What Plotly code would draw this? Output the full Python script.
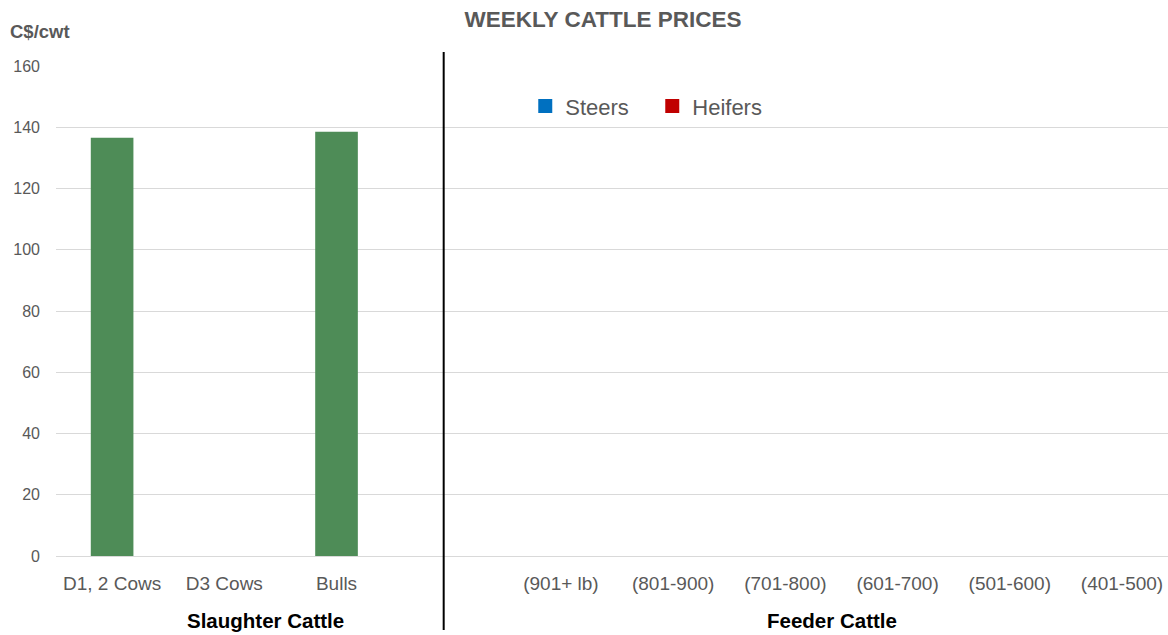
import plotly.graph_objects as go

# ---- data ----
slaughter_categories = ["D1, 2 Cows", "D3 Cows", "Bulls"]
slaughter_values = [136.6, None, 138.5]
feeder_categories = ["(901+ lb)", "(801-900)", "(701-800)", "(601-700)", "(501-600)", "(401-500)"]
steers_values = [None, None, None, None, None, None]
heifers_values = [None, None, None, None, None, None]
spacer_category = [" "]
y_ticks = [0, 20, 40, 60, 80, 100, 120, 140, 160]

all_categories = slaughter_categories + spacer_category + feeder_categories

FONT = "Liberation Sans Narrow, Arial Narrow, Liberation Sans, Arial, sans-serif"
GREY = "#595959"

fig = go.Figure()
fig.add_trace(go.Bar(x=slaughter_categories, y=slaughter_values, name="Slaughter",
                     marker=dict(color="#4e8c57", line=dict(width=0)), width=0.38,
                     showlegend=False))
fig.add_trace(go.Bar(x=feeder_categories, y=steers_values, name="Steers",
                     marker=dict(color="#0070c0", line=dict(color="#0070c0", width=2)),
                     width=0.38))
fig.add_trace(go.Bar(x=feeder_categories, y=heifers_values, name="Heifers",
                     marker=dict(color="#c00000", line=dict(color="#c00000", width=2)),
                     width=0.38))

fig.update_layout(
    width=1168, height=635,
    margin=dict(l=56, r=0, t=66, b=79),
    paper_bgcolor="white", plot_bgcolor="white",
    barmode="overlay",
    font=dict(family=FONT, color=GREY),
    title=dict(text="<b>WEEKLY CATTLE PRICES</b>", xref="container", yref="container",
               x=603 / 1168, xanchor="center", y=1 - 19 / 635, yanchor="middle",
               font=dict(family=FONT, size=22.5, color=GREY)),
    xaxis=dict(type="category", categoryorder="array", categoryarray=all_categories,
               tickmode="array", tickvals=all_categories, ticktext=all_categories,
               range=[-0.5, 9.41], showgrid=False, showline=False, zeroline=False,
               ticks="", tickfont=dict(family=FONT, size=19, color=GREY),
               ticklabelstandoff=14),
    yaxis=dict(range=[0, 160], tickvals=y_ticks, showgrid=True, gridcolor="#d9d9d9",
               gridwidth=1, zeroline=True, zerolinecolor="#d9d9d9", zerolinewidth=1,
               showline=False, ticks="", tickfont=dict(family=FONT, size=16, color=GREY),
               ticklabelstandoff=15),
    legend=dict(orientation="h", x=0.422, xanchor="left", y=0.918, yanchor="middle",
                font=dict(family=FONT, size=22, color=GREY), bgcolor="rgba(0,0,0,0)",
                entrywidth=82),
    showlegend=True,
)

fig.add_shape(type="line", xref="x", yref="paper", x0=2.955, x1=2.955,
              y0=-0.151, y1=1.0286, line=dict(color="black", width=2))

fig.add_annotation(text="<b>C$/cwt</b>", xref="paper", yref="paper", x=-0.043, xanchor="left",
                   y=1.071, yanchor="middle", showarrow=False,
                   font=dict(family=FONT, size=18.5, color=GREY))
fig.add_annotation(text="<b>Slaughter Cattle</b>", xref="paper", yref="paper", x=0.188,
                   xanchor="center", y=-0.131, yanchor="middle", showarrow=False,
                   font=dict(family=FONT, size=20.5, color="black"))
fig.add_annotation(text="<b>Feeder Cattle</b>", xref="paper", yref="paper", x=0.698,
                   xanchor="center", y=-0.131, yanchor="middle", showarrow=False,
                   font=dict(family=FONT, size=20.5, color="black"))

fig.write_html("out.html", config={"displayModeBar": False},
               post_script="document.body.style.margin='0';document.body.style.overflow='hidden';")
